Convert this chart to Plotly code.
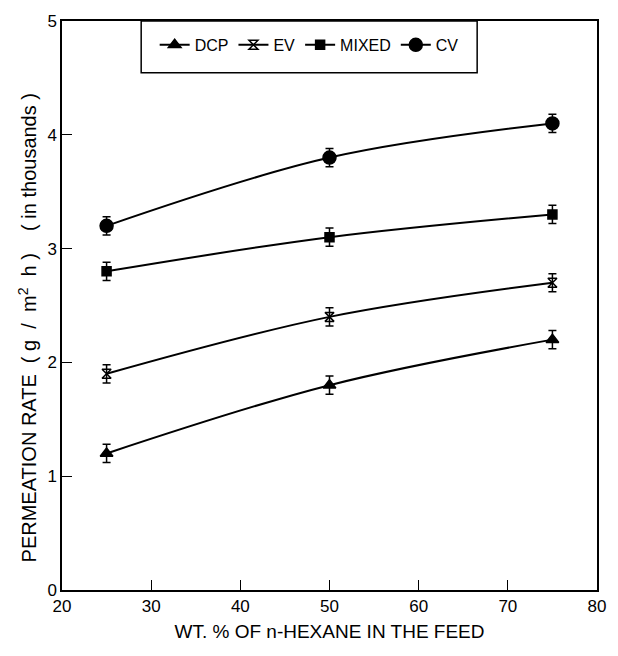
import plotly.graph_objects as go

x_vals = [25, 50, 75]
dcp = [1.2, 1.8, 2.2]
ev = [1.9, 2.4, 2.7]
mixed = [2.8, 3.1, 3.3]
cv = [3.2, 3.8, 4.1]
err = [0.08, 0.08, 0.08]

series = [
    ("DCP", dcp, "triangle-up", 11),
    ("EV", ev, "hourglass-open", 9),
    ("MIXED", mixed, "square", 9),
    ("CV", cv, "circle", 13),
]

fig = go.Figure()
for name, vals, sym, size in series:
    fig.add_trace(go.Scatter(
        x=x_vals, y=vals, name=name, mode="lines+markers",
        line=dict(color="black", width=2, shape="spline"),
        marker=dict(symbol=sym, size=size, color="black",
                    line=dict(color="black", width=1.5)),
        error_y=dict(type="data", array=err, color="black", thickness=1.5, width=4),
    ))

font = "Arial, Liberation Sans, sans-serif"
sp = "&nbsp;"
ytitle = ("PERMEATION RATE" + sp * 2 + "(" + sp + "g" + sp * 2 + "/" + sp * 2 + "m<sup>2</sup>" + sp * 2 + "h" + sp + ")"
          + sp * 4 + "(" + sp + "in thousands" + sp + ")" + sp * 8)
fig.update_layout(
    width=618, height=656,
    margin=dict(l=62, r=15, t=19, b=66),
    plot_bgcolor="white", paper_bgcolor="white",
    font=dict(family=font, size=17, color="black"),
    showlegend=True,
    legend=dict(orientation="h", x=0.462, y=0.958, xanchor="center", yanchor="middle",
                borderwidth=0, bgcolor="rgba(0,0,0,0)",
                font=dict(size=16), itemwidth=30),
    shapes=[dict(type="rect", xref="paper", yref="paper",
                 x0=0.148, x1=0.776, y0=0.909, y1=1.0,
                 line=dict(color="black", width=1.5), fillcolor="white", layer="below")],
    xaxis=dict(range=[20, 80], tickvals=[20, 30, 40, 50, 60, 70, 80],
               ticks="inside", ticklen=10, tickcolor="black", tickwidth=1,
               showline=True, linecolor="black", linewidth=1.5, mirror=True,
               showgrid=False, zeroline=False,
               title=dict(text="WT. % OF n-HEXANE IN THE FEED", standoff=10,
                          font=dict(size=19))),
    yaxis=dict(range=[0, 5], tickvals=[0, 1, 2, 3, 4, 5],
               ticks="inside", ticklen=10, tickcolor="black", tickwidth=1,
               showline=True, linecolor="black", linewidth=1.5, mirror=True,
               showgrid=False, zeroline=False,
               title=dict(text=ytitle, standoff=5, font=dict(size=20))),
)

fig.write_html("out.html")
